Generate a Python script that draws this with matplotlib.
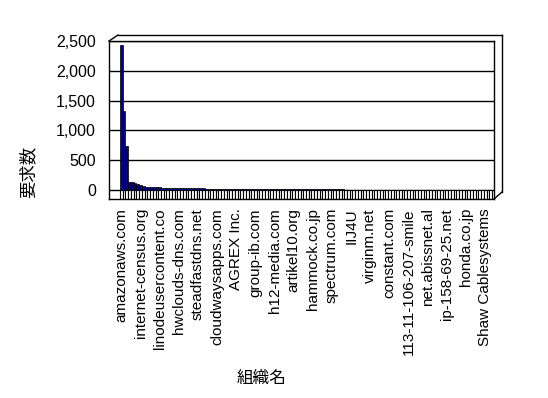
import matplotlib.pyplot as plt
from matplotlib.lines import Line2D
import numpy as np

plt.rcParams['font.family'] = ['Liberation Sans', 'Noto Sans CJK JP', 'DejaVu Sans']

# organisations shown on the axis (every 7th category is labelled)
labelled_orgs = ['amazonaws.com', 'internet-census.org', 'linodeusercontent.co',
                 'hwclouds-dns.com', 'steadfastdns.net', 'cloudwaysapps.com',
                 'AGREX Inc.', 'group-ib.com', 'h12-media.com', 'artikel10.org',
                 'hammock.co.jp', 'spectrum.com', 'IIJ4U', 'virginm.net',
                 'constant.com', '113-11-106-207-smile', 'net.abissnet.al',
                 'ip-158-69-25.net', 'honda.co.jp', 'Shaw Cablesystems']
label_step = 7

# request counts per organisation (136 organisations, sorted)
requests = [2430, 1330, 740, 135, 130, 117, 100, 84, 67, 56,
            56, 55, 55, 54, 54, 40, 40, 40, 39, 39,
            39, 39, 38, 38, 38, 38, 37, 37, 37, 37,
            36, 18, 18, 17, 17, 17, 16, 16, 16, 16,
            15, 15, 15, 15, 15, 14, 14, 14, 14, 14,
            13, 13, 13, 13, 13, 12, 12, 12, 12, 12,
            12, 11, 11, 11, 11, 11, 11, 10, 10, 10,
            10, 10, 10, 10, 9, 9, 9, 9, 9, 9,
            9, 9, 8, 8, 8, 8, 8, 8, 8, 8,
            8, 7, 7, 7, 7, 7, 7, 7, 7, 7,
            7, 7, 6, 6, 6, 6, 6, 6, 6, 6,
            6, 6, 6, 6, 6, 5, 5, 5, 5, 5,
            5, 5, 5, 5, 5, 5, 5, 5, 5, 5,
            5, 5, 5, 5, 5, 5]

yticks = [0, 500, 1000, 1500, 2000, 2500]

W, H = 548, 398
fig = plt.figure(figsize=(W / 100, H / 100), dpi=100)

def fx(x):
    return x / W

def fy(y):
    return 1 - y / H

ax = fig.add_axes([fx(109), fy(199), fx(494) - fx(109), fy(41) - fy(199)])

n = len(requests)
xs = np.arange(n)
floor = 151
pitch = 372 / n

# floor strip under the columns
ax.bar(xs, floor, bottom=-floor, width=1, color='white', edgecolor='black', lw=0.8, zorder=2)
ax.bar(xs, requests, width=1, color='#000080', edgecolor='black', lw=0.5, zorder=3)

ax.set_ylim(-floor, 2500)
ax.set_xlim(-0.5 - 11 / pitch, n - 0.5 + 2 / pitch)
ax.set_yticks(yticks)
ax.set_yticklabels(['{:,}'.format(v) for v in yticks], fontsize=11.5)
ax.yaxis.grid(True, color='black', lw=1)
ax.set_axisbelow(True)

pos = xs[::label_step][:len(labelled_orgs)]
ax.set_xticks(pos)
ax.set_xticklabels(labelled_orgs, rotation=90, fontsize=11)
ax.tick_params(axis='y', length=0, pad=9.4)
ax.tick_params(axis='x', length=0, pad=6.5)
for s in ax.spines.values():
    s.set_linewidth(1)
    s.set_color('black')

# 3d wall outline
wall = [((109, 41), (118, 35)), ((118, 35), (502, 35)),
        ((502, 35), (502, 192)), ((502, 192), (494, 199))]
for (x0, y0), (x1, y1) in wall:
    fig.add_artist(Line2D([fx(x0), fx(x1)], [fy(y0), fy(y1)], color='black', lw=1))

fig.text(fx(28), fy(172), '要求数', rotation=90, fontsize=12.5, ha='center', va='center',
         family=['Noto Sans CJK JP'])
fig.text(fx(262), fy(378), '組織名', fontsize=12, ha='center', va='center',
         family=['Noto Sans CJK JP'])

fig.savefig('out.png', dpi=100)
